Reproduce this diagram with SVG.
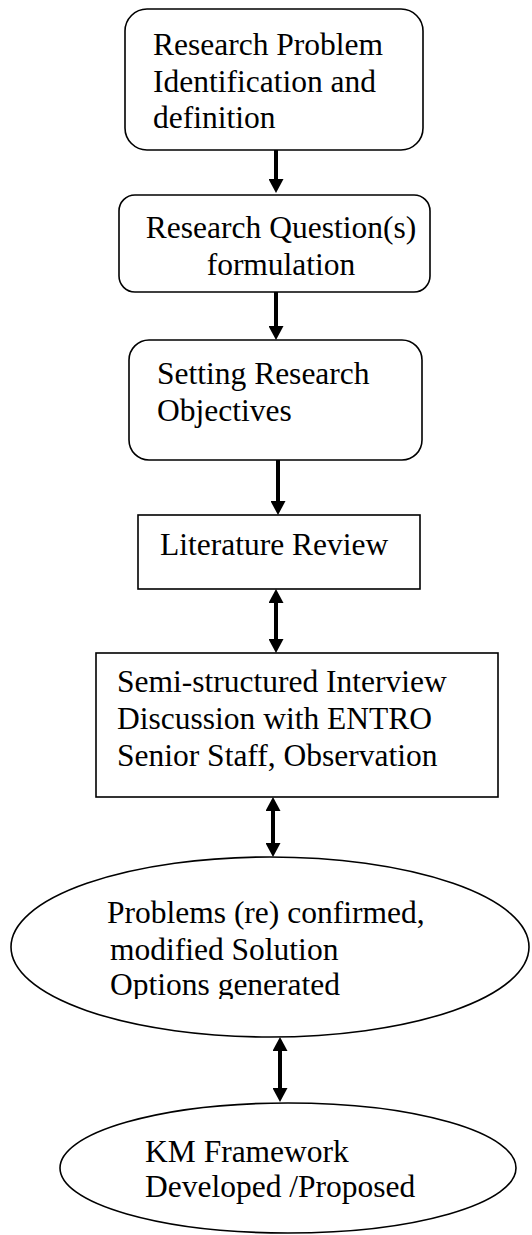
<svg xmlns="http://www.w3.org/2000/svg" width="532" height="1235" viewBox="0 0 532 1235">
  <style>
    .shape { fill: #ffffff; stroke: #000000; stroke-width: 1.6; }
    .label { font-family: "Liberation Serif", "Times New Roman", serif; font-size: 31.5px; fill: #000000; }
    .link { stroke: #000000; stroke-width: 4; fill: none; }
  </style>
  <defs>
    <marker id="head" viewBox="0 0 14 15" refX="4" refY="7.5" markerWidth="14" markerHeight="15" markerUnits="userSpaceOnUse" orient="auto-start-reverse">
      <path d="M0,0 L14,7.5 L0,15 Z" fill="#000000"/>
    </marker>
    <clipPath id="ellipseTextClip">
      <rect x="0" y="880" width="532" height="119"/>
    </clipPath>
  </defs>

  <!-- connectors -->
  <g id="connectors">
    <line class="link" x1="276" y1="150" x2="276" y2="183" marker-end="url(#head)"/>
    <line class="link" x1="276" y1="292" x2="276" y2="330" marker-end="url(#head)"/>
    <line class="link" x1="278" y1="460" x2="278" y2="505" marker-end="url(#head)"/>
    <line class="link" x1="276" y1="599" x2="276" y2="643" marker-start="url(#head)" marker-end="url(#head)"/>
    <line class="link" x1="273" y1="807" x2="273" y2="847" marker-start="url(#head)" marker-end="url(#head)"/>
    <line class="link" x1="280" y1="1047" x2="280" y2="1092" marker-start="url(#head)" marker-end="url(#head)"/>
  </g>

  <g id="problem">
    <rect class="shape" x="125" y="9" width="298" height="141" rx="22" ry="22"/>
    <text class="label" x="153" y="55">Research Problem</text>
    <text class="label" x="153" y="92">Identification and</text>
    <text class="label" x="153" y="128">definition</text>
  </g>

  <g id="questions">
    <rect class="shape" x="119" y="195" width="311" height="97" rx="16" ry="16"/>
    <text class="label" x="281" y="238" text-anchor="middle">Research Question(s)</text>
    <text class="label" x="281" y="275" text-anchor="middle">formulation</text>
  </g>

  <g id="objectives">
    <rect class="shape" x="129" y="340" width="293" height="120" rx="20" ry="20"/>
    <text class="label" x="157" y="384">Setting Research</text>
    <text class="label" x="157" y="421">Objectives</text>
  </g>

  <g id="literature">
    <rect class="shape" x="138" y="515" width="282" height="74"/>
    <text class="label" x="160" y="555">Literature Review</text>
  </g>

  <g id="interview">
    <rect class="shape" x="96" y="653" width="402" height="144"/>
    <text class="label" x="117" y="692">Semi-structured Interview</text>
    <text class="label" x="117" y="729">Discussion with ENTRO</text>
    <text class="label" x="117" y="766">Senior Staff, Observation</text>
  </g>

  <g id="confirmed">
    <ellipse class="shape" cx="270" cy="947" rx="259" ry="90"/>
    <g clip-path="url(#ellipseTextClip)">
      <text class="label" x="107" y="923">Problems (re) confirmed,</text>
      <text class="label" x="110" y="960">modified Solution</text>
      <text class="label" x="110" y="995">Options generated</text>
    </g>
  </g>

  <g id="framework">
    <ellipse class="shape" cx="288" cy="1168" rx="228" ry="65"/>
    <text class="label" x="145" y="1162">KM Framework</text>
    <text class="label" x="145" y="1197">Developed /Proposed</text>
  </g>
</svg>
